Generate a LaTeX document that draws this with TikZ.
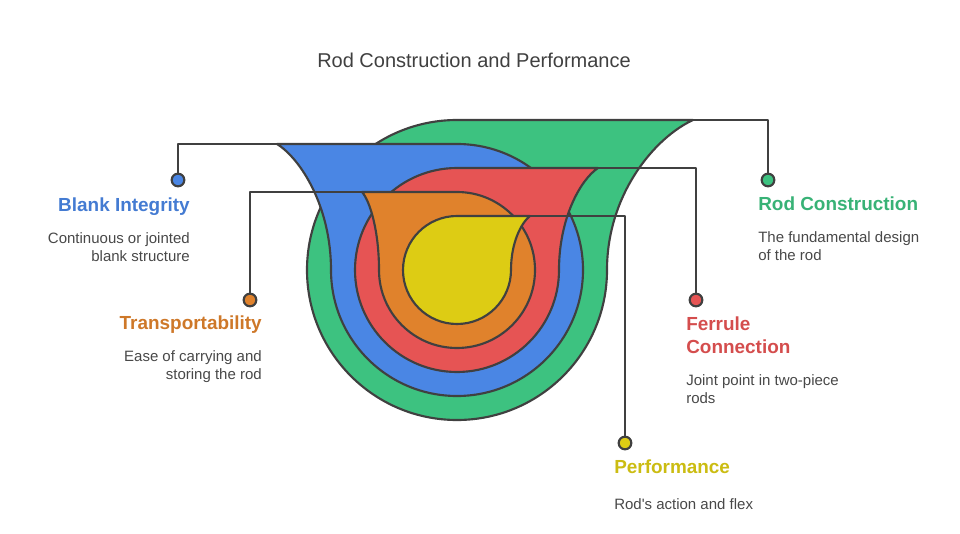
\documentclass[tikz,border=0pt]{standalone}
\usepackage{fontspec}
\setmainfont{Liberation Sans}
\usetikzlibrary{positioning}

\begin{document}
\begin{tikzpicture}[x=0.75pt,y=0.75pt,
    drop/.style={draw=edge,line width=1.6pt,line join=round},
    conn/.style={draw=edge,line width=1.6pt,line join=round},
    dot/.style={circle,draw=edge,line width=1.6pt,inner sep=0pt,minimum size=9.5pt},
    head/.style={inner sep=0pt,text depth=0pt,font=\fontsize{14.2}{17.5}\selectfont\bfseries},
    desc/.style={inner sep=0pt,text=desctext,font=\fontsize{11.25}{13.5}\selectfont}]

		    \definecolor{edge}{RGB}{64,64,64}
		    \definecolor{desctext}{RGB}{72,72,72}
		    \definecolor{rodgreen}{RGB}{61,194,128}
		    \definecolor{rodblue}{RGB}{74,134,228}
		    \definecolor{rodred}{RGB}{230,84,84}
		    \definecolor{rodorange}{RGB}{224,130,44}
		    \definecolor{rodyellow}{RGB}{221,204,20}

		    \useasboundingbox (0,0) rectangle (960,533);

		    \node(title) at (474,473) [text=edge,font=\fontsize{15}{18}\selectfont]{Rod Construction and Performance};

		    % funnel corners
		    \coordinate (gcorner) at (693,413);
		    \coordinate (bcorner) at (277,389);
		    \coordinate (rcorner) at (598,365);
		    \coordinate (ocorner) at (362,341);
		    \coordinate (ycorner) at (530,317);

		    \draw[drop,fill=rodgreen] (457,413) arc[start angle=90,end angle=360,radius=150] .. controls (607,338) and (654,395) .. (gcorner) -- cycle;
		    \draw[drop,fill=rodblue] (457,389) arc[start angle=90,end angle=-180,radius=126] .. controls (331,326) and (301,374) .. (bcorner) -- cycle;
		    \draw[drop,fill=rodred] (457,365) arc[start angle=90,end angle=360,radius=102] .. controls (559,314) and (580,353) .. (rcorner) -- cycle;
		    \draw[drop,fill=rodorange] (457,341) arc[start angle=90,end angle=-180,radius=78] .. controls (379,302) and (370,332) .. (ocorner) -- cycle;
		    \draw[drop,fill=rodyellow] (457,317) arc[start angle=90,end angle=360,radius=54] .. controls (511,290) and (521,310) .. (ycorner) -- cycle;

		    % dots
		    \node(gdot) at (768,353) [dot,fill=rodgreen]{};
		    \node(bdot) at (178,353) [dot,fill=rodblue]{};
		    \node(rdot) at (696,233) [dot,fill=rodred]{};
		    \node(odot) at (250,233) [dot,fill=rodorange]{};
		    \node(ydot) at (625,90) [dot,fill=rodyellow]{};

		    \draw[conn] (gcorner) -| (gdot);
		    \draw[conn] (bcorner) -| (bdot);
		    \draw[conn] (rcorner) -| (rdot);
		    \draw[conn] (ocorner) -| (odot);
		    \draw[conn] (ycorner) -| (ydot);

		    % labels
		    \node(blank) at (190,321) [head,anchor=south east,text=rodblue!92!black]{Blank Integrity};
		    \node(blankdesc) [desc,below=15pt of blank.south east,anchor=north east,align=right]{Continuous or jointed\\blank structure};

		    \node(trans) at (262,203) [head,anchor=south east,text=rodorange!92!black]{Transportability};
		    \node(transdesc) [desc,below=15pt of trans.south east,anchor=north east,align=right]{Ease of carrying and\\storing the rod};

		    \node(rodc) at (758,322) [head,anchor=south west,text=rodgreen!92!black]{Rod Construction};
		    \node(rodcdesc) [desc,below=15pt of rodc.south west,anchor=north west,align=left]{The fundamental design\\of the rod};

		    \node(ferrule) at (686,179) [head,anchor=south west,align=left,text=rodred!92!black]{Ferrule\\Connection};
		    \node(ferruledesc) [desc,below=15pt of ferrule.south west,anchor=north west,align=left]{Joint point in two-piece\\rods};

		    \node(perf) at (614,59) [head,anchor=south west,text=rodyellow!92!black]{Performance};
		    \node(perfdesc) [desc,below=18pt of perf.south west,anchor=north west,align=left]{Rod\textquotesingle s action and flex};

\end{tikzpicture}
\end{document}
